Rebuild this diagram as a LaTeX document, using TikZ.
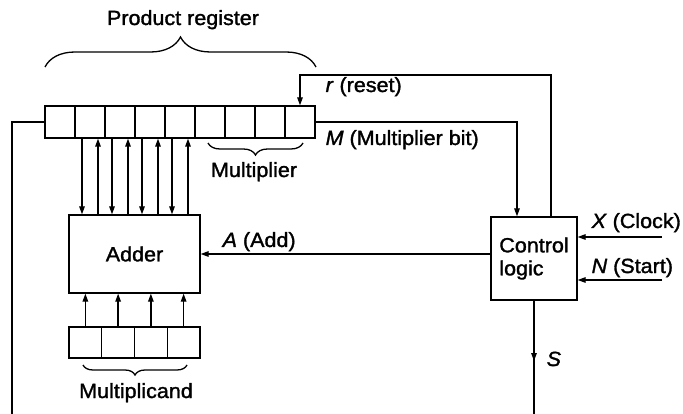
\documentclass[tikz,border=0pt]{standalone}
\usepackage{fontspec}
\setmainfont[FakeStretch=1.05,FakeBold=1.5]{Liberation Sans}
\usetikzlibrary{arrows.meta,decorations.pathreplacing,calc}
\begin{document}
\begin{tikzpicture}[x=1pt,y=-1pt, line width=1.3pt,
  every node/.style={font=\fontsize{20.5}{23}\selectfont},
  cell/.style={draw, rectangle, minimum width=30pt, minimum height=32pt, inner sep=0pt},
  mcell/.style={draw, rectangle, minimum width=32.75pt, minimum height=31pt, inner sep=0pt},
  blk/.style={draw, rectangle, inner sep=0pt},
  arr/.style={-{Triangle[length=8pt,width=5.5pt]}},
  lbl/.style={inner sep=0pt, anchor=base west},
  clbl/.style={inner sep=0pt, anchor=base},
  brc/.style={decorate, decoration={brace, amplitude=#1}}]
\useasboundingbox (0,0) rectangle (683,414);

% product register
\foreach \i in {1,...,9} \node[cell] (p\i) at ({60+30*(\i-1)},122) {};
% adder
\node[blk, minimum width=131pt, minimum height=78pt] (adder) at (134.5,254) {Adder};
% control logic
\node[blk, minimum width=86pt, minimum height=83pt, align=left] (ctrl) at (534,258.5) {Control\\logic};
% multiplicand
\foreach \i in {1,...,4} \node[mcell] (m\i) at ({85.375+32.75*(\i-1)},342.5) {};

% free ends
\coordinate (fbL) at (12,414);
\coordinate (rtop) at (551,75);
\coordinate (xin) at (662,237);
\coordinate (nin) at (662,280);
\coordinate (sout) at (534,414);
\coordinate (sarr) at (534,361);

% connectors
\draw (p1.west) -| (fbL);
\draw[arr] (ctrl.north -| rtop) -- (rtop) -| (p9.north);
\draw[arr] (p9.east) -| ([xshift=-17pt]ctrl.north);
\draw[arr] (ctrl.west |- adder.east) -- (adder.east);
\draw[arr] (xin) -- (xin -| ctrl.east);
\draw[arr] (nin) -- (nin -| ctrl.east);
\draw (ctrl.south) -- (sout);
\draw[arr] (ctrl.south) -- (sarr);

\foreach \i in {2,...,5} {
  \draw[arr] ([xshift=-8pt]p\i.south) -- ([xshift=-8pt]p\i.south |- adder.north);
  \draw[arr] ([xshift=8pt]p\i.south |- adder.north) -- ([xshift=8pt]p\i.south);
}
\foreach \i in {1,...,4} \draw[arr] (m\i.north) -- (m\i.north |- adder.south);

% braces
\draw[brc=30] (45,67) -- (316,67);
\draw[brc=12] (303,143) -- (208,143);
\draw[brc=10] (187,365) -- (83,365);

% labels
\node[clbl] (prl) at (183,25) {Product register};
\node[clbl] (mull) at (254,177) {Multiplier};
\node[clbl] (mcl) at (136,398) {Multiplicand};
\node[lbl] (rl) at (325,92) {\textit{r} (reset)};
\node[lbl] (ml) at (325,145) {\textit{M} (Multiplier bit)};
\node[lbl] (al) at (222,247) {\textit{A} (Add)};
\node[lbl] (xl) at (591,228) {\textit{X} (Clock)};
\node[lbl] (nl) at (591,273) {\textit{N} (Start)};
\node[lbl] (sl) at (546,366) {\textit{S}};
\end{tikzpicture}
\end{document}
